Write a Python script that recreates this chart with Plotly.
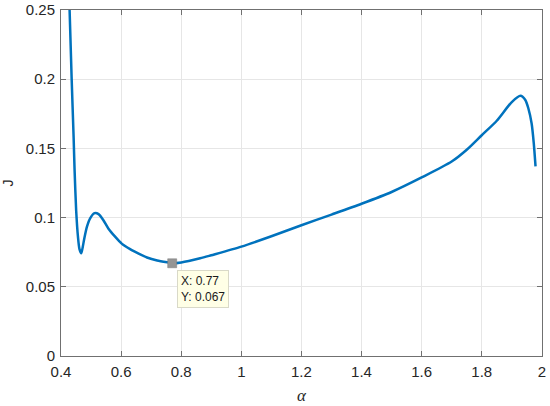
import plotly.graph_objects as go

# curve J(alpha)
alpha = [0.4286, 0.4355, 0.442, 0.4452, 0.4505, 0.4565, 0.4615, 0.4675, 0.4725, 0.478,
         0.4864, 0.497, 0.5117, 0.525, 0.540, 0.558, 0.580, 0.602, 0.630, 0.660,
         0.686, 0.720, 0.763, 0.77, 0.80, 0.863, 0.90, 1.0, 1.1, 1.2,
         1.3, 1.4, 1.5, 1.6, 1.7, 1.75, 1.8, 1.85, 1.9, 1.929,
         1.945, 1.955, 1.966, 1.973, 1.979]
J = [0.25, 0.20, 0.158, 0.1345, 0.105, 0.0860, 0.0772, 0.0742, 0.0790, 0.0855,
     0.0935, 0.0995, 0.1032, 0.1025, 0.0985, 0.0920, 0.0862, 0.0812, 0.0772, 0.0738,
     0.0712, 0.0690, 0.0673, 0.067, 0.0676, 0.0706, 0.0728, 0.0790, 0.0865, 0.0945,
     0.1022, 0.1100, 0.1185, 0.1290, 0.1405, 0.1490, 0.1595, 0.1700, 0.1835, 0.1880,
     0.1850, 0.1790, 0.1680, 0.1540, 0.1370]

# data tip
tip_x = 0.77
tip_y = 0.067

x_ticks = [0.4, 0.6, 0.8, 1, 1.2, 1.4, 1.6, 1.8, 2]
x_tick_text = ["0.4", "0.6", "0.8", "1", "1.2", "1.4", "1.6", "1.8", "2"]
y_ticks = [0, 0.05, 0.1, 0.15, 0.2, 0.25]
y_tick_text = ["0", "0.05", "0.1", "0.15", "0.2", "0.25"]

fig = go.Figure()

fig.add_trace(go.Scatter(x=alpha, y=J, mode='lines',
                         line=dict(color='#0072BD', width=2.5, shape='spline', smoothing=0.7),
                         showlegend=False))

fig.add_trace(go.Scatter(x=[tip_x], y=[tip_y], mode='markers',
                         marker=dict(symbol='square', size=9, color='#959595',
                                     line=dict(color='#7a7a7a', width=0.5)),
                         showlegend=False))

fig.add_annotation(x=tip_x, y=tip_y, xref='x', yref='y',
                   text=f"X: {tip_x}<br>Y: {tip_y}",
                   showarrow=False, xanchor='left', yanchor='top', align='left',
                   xshift=5, yshift=-7,
                   font=dict(family='Liberation Sans, Arial', size=12, color='#1a1a1a'),
                   bgcolor='#FFFFE6', bordercolor='#d9d9c8', borderwidth=1, borderpad=3)

axis_common = dict(showline=True, linecolor='#707070', linewidth=1, mirror='ticks',
                   ticks='inside', ticklen=5, tickcolor='#707070',
                   showgrid=True, gridcolor='#e6e6e6', gridwidth=1, zeroline=False,
                   automargin=False,
                   tickfont=dict(family='Liberation Sans, Arial', size=15, color='#262626'))

fig.update_layout(
    width=550, height=406,
    margin=dict(l=61, r=8, t=10, b=50),
    plot_bgcolor='white', paper_bgcolor='white',
    xaxis=dict(range=[0.4, 2.0005], tickvals=x_ticks, ticktext=x_tick_text,
               ticklabelstandoff=2,
               title=dict(text='<i>α</i>', standoff=10,
                          font=dict(family='Liberation Serif, Times New Roman', size=17, color='#262626')),
               **axis_common),
    yaxis=dict(range=[0, 0.25], tickvals=y_ticks, ticktext=y_tick_text,
               ticklabelstandoff=2,
               title=dict(text='J', standoff=10,
                          font=dict(family='Liberation Sans, Arial', size=14, color='#262626')),
               **axis_common),
)

# drop the default page margin so the figure sits at the window's top-left corner
fig.write_html("out.html", config={'displayModeBar': False},
               post_script="document.body.style.margin='0';")
